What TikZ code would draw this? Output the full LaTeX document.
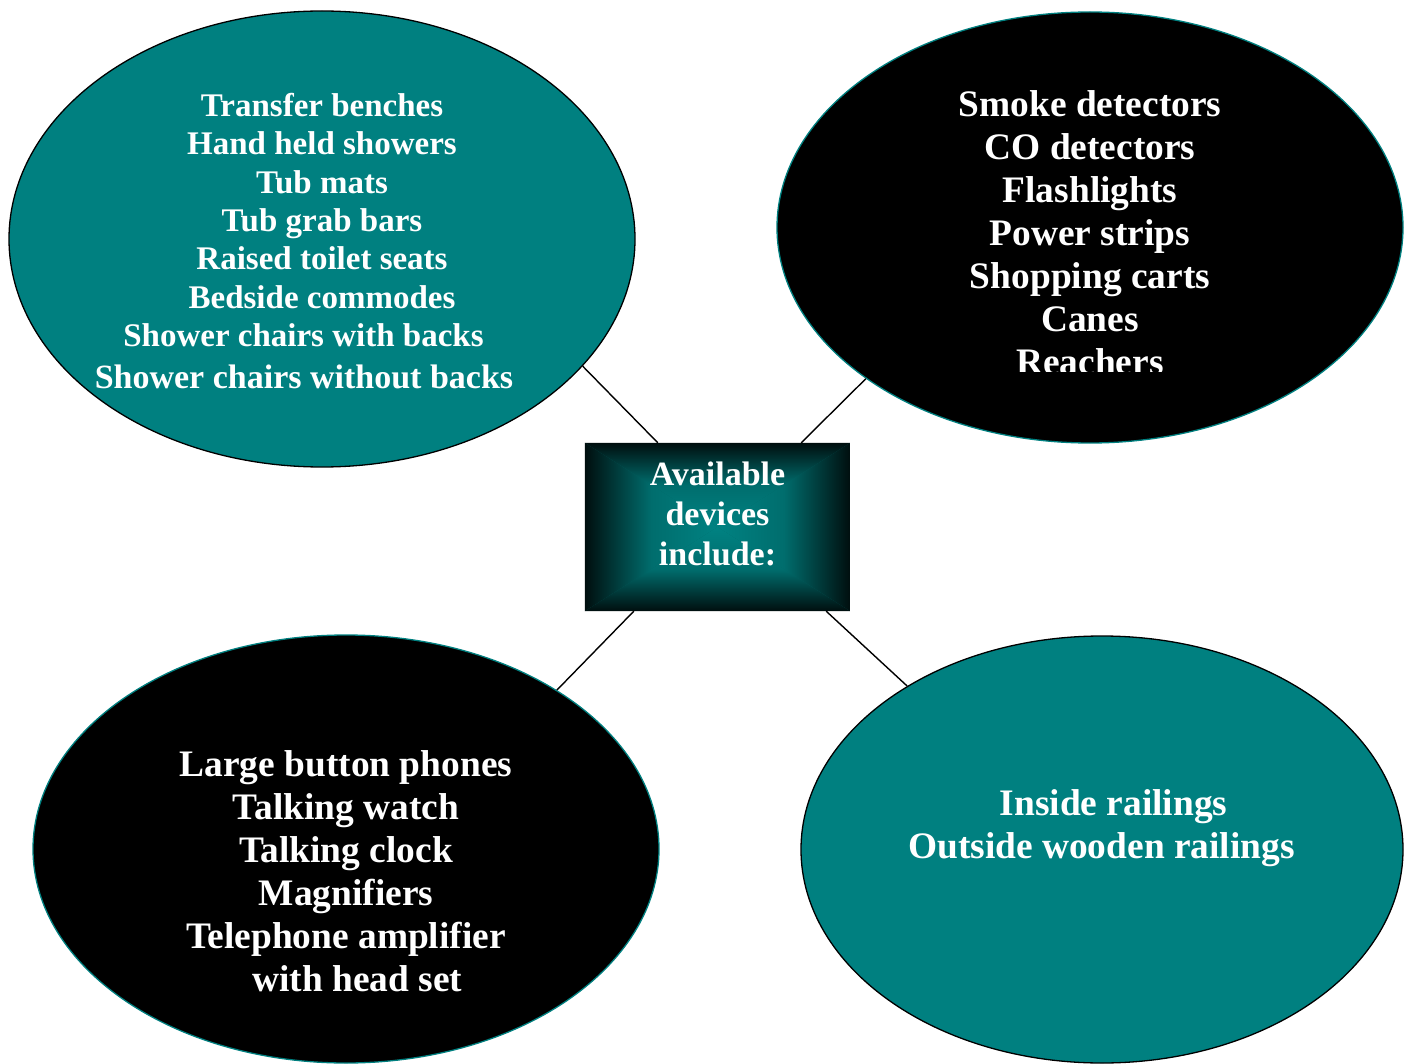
\documentclass[tikz,border=0pt]{standalone}
\usepackage{fontspec}
\setmainfont{Liberation Serif}
\usetikzlibrary{shapes.geometric}
\pgfdeclarelayer{background}
\pgfsetlayers{background,main}
\definecolor{tealfill}{RGB}{0,128,128}
\definecolor{boxcore}{RGB}{0,130,130}
\definecolor{boxedge}{RGB}{0,14,14}
\definecolor{boxmid}{RGB}{0,100,100}
\colorlet{boxhalf}{boxcore!82!boxedge}
\tikzset{
  blob/.style={ellipse, inner sep=0pt, line width=1.3pt},
  tealblob/.style={blob, fill=tealfill, draw=black},
  darkblob/.style={blob, fill=black, draw=tealfill},
  itemtext/.style={text=white, font=\bfseries\fontsize{37.4}{43}\selectfont, align=center, anchor=base, inner sep=0pt},
  link/.style={draw=black, line width=1.4pt}
}
\begin{document}
\begin{tikzpicture}[x=1pt,y=-1pt]
\useasboundingbox (0,0) rectangle (1408,1064);
% ellipses
\node[tealblob, minimum width=626pt, minimum height=456pt] (tl) at (322,239) {};
\node[darkblob, minimum width=626pt, minimum height=431pt] (tr) at (1090,227.5) {};
\node[darkblob, minimum width=626pt, minimum height=428pt] (bl) at (346,849) {};
\node[tealblob, minimum width=602pt, minimum height=427pt] (br) at (1102,849.5) {};
% hub box
\node[minimum width=265pt, minimum height=168pt, inner sep=0pt] (hub) at (717.5,527) {};
\begin{pgfonlayer}{background}
  \fill[white] (0,0) rectangle (1408,1064);
  \fill[boxmid] (hub.north west) rectangle (hub.south east);
  \begin{scope}
    \clip (hub.north west) -- (hub.north east) -- (hub.center) -- cycle;
    \shade[top color=boxedge, bottom color=boxcore, middle color=boxhalf] (hub.north west) rectangle (hub.east);
  \end{scope}
  \begin{scope}
    \clip (hub.south west) -- (hub.south east) -- (hub.center) -- cycle;
    \shade[top color=boxcore, bottom color=boxedge, middle color=boxhalf] (hub.west) rectangle (hub.south east);
  \end{scope}
  \begin{scope}
    \clip (hub.north west) -- (hub.south west) -- (hub.center) -- cycle;
    \shade[left color=boxedge, right color=boxcore, middle color=boxhalf] (hub.north west) rectangle (hub.south);
  \end{scope}
  \begin{scope}
    \clip (hub.north east) -- (hub.south east) -- (hub.center) -- cycle;
    \shade[left color=boxcore, right color=boxedge, middle color=boxhalf] (hub.north) rectangle (hub.south east);
  \end{scope}
\end{pgfonlayer}
% connectors
\draw[link] (tl.-26.65) -- ([xshift=73pt]hub.north west);
\draw[link] (tr.-146.1) -- ([xshift=-49pt]hub.north east);
\draw[link] (bl.37.4) -- ([xshift=49pt]hub.south west);
\draw[link] (br.140.95) -- ([xshift=-24pt]hub.south east);
% texts (anchor=base is the baseline of the last line)
\node[itemtext, font=\bfseries\fontsize{34}{40}\selectfont] (hubtext) at (717.5,565) {Available\\devices\\include:};
\node[itemtext, font=\bfseries\fontsize{33}{38.4}\selectfont] (tltext) at (322,388.3)
  {Transfer benches\\Hand held showers\\Tub mats\\Tub grab bars\\Raised toilet seats\\Bedside commodes\\Shower chairs with backs\rule{37pt}{0pt}\\[3.2pt]{\fontsize{34}{38.4}\selectfont Shower chairs without backs}\rule{36pt}{0pt}};
\begin{scope}
  \clip (700,0) rectangle (1408,371.5);
  \node[itemtext] (trtext) at (1090,374.6)
    {Smoke detectors\\CO detectors\\Flashlights\\Power strips\\Shopping carts\\Canes\\Reachers};
\end{scope}
\node[itemtext] (bltext) at (346,991.7)
  {Large button phones\\Talking watch\\Talking clock\\Magnifiers\\Telephone amplifier\\\rule{23pt}{0pt}with head set};
\node[itemtext] (brtext) at (1101.5,858) {\rule{24pt}{0pt}Inside railings\\Outside wooden railings};
\end{tikzpicture}
\end{document}
